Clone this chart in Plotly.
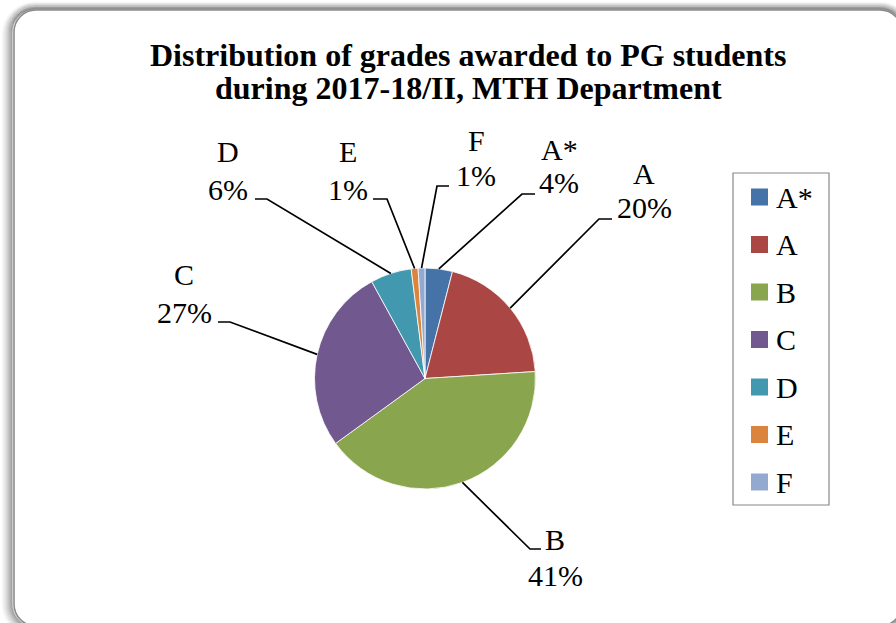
import math
import plotly.graph_objects as go

W, H = 896, 623

# Grade distribution (percent of PG students)
grades = ["A*", "A", "B", "C", "D", "E", "F"]
shares = [4, 20, 41, 27, 6, 1, 1]
colors = ["#4572A7", "#AA4643", "#89A54E", "#71588F", "#4198AF", "#DB843D", "#93A9CF"]

title_lines = ["Distribution of grades awarded to PG students",
               "during 2017-18/II, MTH Department"]

# Pie geometry in pixels
CX, CY, R = 425, 378.5, 110.5

# Data-label placement (pixels): elbow of the leader line, end of its
# horizontal run, label centre x and the baselines of the two text lines
label_pos = {
    "A*": dict(ex=522, ey=194, hx=535, tx=559, b1=159, b2=193),
    "A":  dict(ex=599, ey=219, hx=612, tx=644, b1=183, b2=218),
    "B":  dict(ex=530, ey=549, hx=541, tx=555, b1=549, b2=585),
    "C":  dict(ex=230, ey=322, hx=218, tx=184, b1=285, b2=322),
    "D":  dict(ex=267, ey=199, hx=255, tx=228, b1=162, b2=199),
    "E":  dict(ex=387, ey=199, hx=373, tx=348, b1=162, b2=199),
    "F":  dict(ex=437, ey=186, hx=449, tx=476, b1=150, b2=185),
}

SERIF = "Liberation Serif"
LBL = 30


def px(x):
    return x / W


def py(y):
    return 1 - y / H


def rounded_rect(x0, y0, x1, y1, r):
    k = 0.5523 * r
    pts = [
        ("M", [(x0 + r, y0)]),
        ("L", [(x1 - r, y0)]),
        ("C", [(x1 - r + k, y0), (x1, y0 + r - k), (x1, y0 + r)]),
        ("L", [(x1, y1 - r)]),
        ("C", [(x1, y1 - r + k), (x1 - r + k, y1), (x1 - r, y1)]),
        ("L", [(x0 + r, y1)]),
        ("C", [(x0 + r - k, y1), (x0, y1 - r + k), (x0, y1 - r)]),
        ("L", [(x0, y0 + r)]),
        ("C", [(x0, y0 + r - k), (x0 + r - k, y0), (x0 + r, y0)]),
    ]
    s = ""
    for cmd, ps in pts:
        s += cmd + " " + " ".join(f"{px(a):.5f},{py(b):.5f}" for a, b in ps) + " "
    return s + "Z"


fig = go.Figure()

fig.add_trace(go.Pie(
    labels=grades,
    values=shares,
    sort=False,
    direction="clockwise",
    rotation=0,
    marker=dict(colors=colors, line=dict(color="white", width=0.8)),
    textinfo="none",
    hoverinfo="label+percent",
    showlegend=False,
    domain=dict(x=[px(CX - R), px(CX + R)], y=[py(CY + R), py(CY - R)]),
))

shapes = []
annotations = []

# Chart-area frame with a soft shadow
for i in range(12, 0, -1):
    a = 0.30 * (1 - i / 13) ** 1.6
    shapes.append(dict(type="path", xref="paper", yref="paper",
                       path=rounded_rect(14 - i - 1, 10 - i * 0.7, 902 + i, 626 + i, 22 + i),
                       line=dict(color=f"rgba(0,0,0,{a:.3f})", width=1.6)))
shapes.append(dict(type="path", xref="paper", yref="paper",
                   path=rounded_rect(14, 10, 902, 626, 22),
                   line=dict(color="#8c8c8c", width=1.6)))

# Title
for line, base in zip(title_lines, [66, 98]):
    annotations.append(dict(text=f"<b>{line}</b>", x=px(468), y=py(base - 10.5),
                            xref="paper", yref="paper", showarrow=False,
                            xanchor="center", yanchor="middle",
                            font=dict(family=SERIF, size=32, color="black")))

# Leader lines and data labels
total = sum(shares)
cum = 0
for g, v in zip(grades, shares):
    mid = (cum + v / 2) / total * 2 * math.pi
    cum += v
    sx = CX + R * math.sin(mid)
    sy = CY - R * math.cos(mid)
    p = label_pos[g]
    path = (f"M {px(sx):.5f},{py(sy):.5f} L {px(p['ex']):.5f},{py(p['ey']):.5f} "
            f"L {px(p['hx']):.5f},{py(p['ey']):.5f}")
    shapes.append(dict(type="path", xref="paper", yref="paper", path=path,
                       line=dict(color="black", width=1.7)))
    pct = f"{round(v / total * 100)}%"
    for txt, base in [(g, p["b1"]), (pct, p["b2"])]:
        annotations.append(dict(text=txt, x=px(p["tx"]), y=py(base - 10),
                                xref="paper", yref="paper", showarrow=False,
                                xanchor="center", yanchor="middle",
                                font=dict(family=SERIF, size=LBL, color="black")))

# Legend
LX0, LY0, LX1, LY1 = 733, 173, 829, 505
shapes.append(dict(type="rect", xref="paper", yref="paper",
                   x0=px(LX0), x1=px(LX1), y0=py(LY1), y1=py(LY0),
                   line=dict(color="#888888", width=1.2), fillcolor="white"))
step = (482 - 197) / (len(grades) - 1)
for i, (g, c) in enumerate(zip(grades, colors)):
    yc = 197 + i * step
    shapes.append(dict(type="rect", xref="paper", yref="paper",
                       x0=px(751), x1=px(768), y0=py(yc + 8.5), y1=py(yc - 8.5),
                       line=dict(width=0), fillcolor=c))
    annotations.append(dict(text=g, x=px(774), y=py(yc), xref="paper", yref="paper",
                            showarrow=False, xanchor="left", yanchor="middle",
                            font=dict(family=SERIF, size=LBL, color="black")))

fig.update_layout(
    width=W, height=H,
    margin=dict(l=0, r=0, t=0, b=0),
    paper_bgcolor="white",
    plot_bgcolor="white",
    showlegend=False,
    shapes=shapes,
    annotations=annotations,
)

fig.write_html("out.html")
